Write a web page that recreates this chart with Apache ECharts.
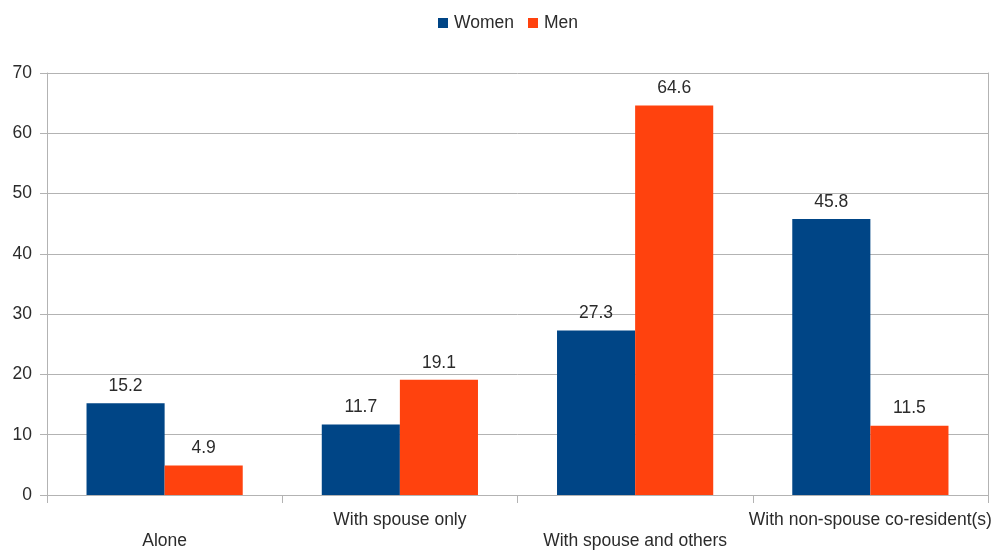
<!DOCTYPE html>
<html>
<head>
<meta charset="utf-8">
<script src="https://cdn.jsdelivr.net/npm/echarts@6/dist/echarts.min.js"></script>
<style>
  html, body { margin: 0; padding: 0; background: #ffffff; }
  #chart { width: 997px; height: 552px; }
</style>
</head>
<body>
<div id="chart"></div>
<script>
// Living arrangements by sex (%)
const categories = ['Alone', 'With spouse only', 'With spouse and others', 'With non-spouse co-resident(s)'];
const women = [15.2, 11.7, 27.3, 45.8];
const men = [4.9, 19.1, 64.6, 11.5];
const yTicks = { min: 0, max: 70, interval: 10 };

const FONT = '"Liberation Sans", Arial, sans-serif';
const FS = 17.5;
const TEXT = '#2b2b2b';
const GRID = '#b3b3b3';

const chart = echarts.init(document.getElementById('chart'), null, { renderer: 'canvas' });

const valueLabel = {
  show: true,
  position: 'top',
  distance: 8,
  color: TEXT,
  fontFamily: FONT,
  fontSize: FS
};

chart.setOption({
  animation: false,
  backgroundColor: '#ffffff',
  textStyle: { fontFamily: FONT },
  legend: {
    top: 9,
    left: 433,
    itemWidth: 10,
    itemHeight: 10,
    itemGap: 14,
    icon: 'rect',
    textStyle: { color: TEXT, fontFamily: FONT, fontSize: FS, padding: [0, 0, 0, 1] },
    data: ['Women', 'Men']
  },
  grid: { left: 47, right: 9, top: 73, bottom: 57 },
  xAxis: {
    type: 'category',
    data: categories,
    boundaryGap: true,
    axisLine: { show: true, lineStyle: { color: GRID, width: 1 } },
    axisTick: { show: true, length: 8, lineStyle: { color: GRID } },
    axisLabel: {
      interval: 0,
      margin: 15,
      color: TEXT,
      fontFamily: FONT,
      fontSize: FS,
      lineHeight: 21,
      // alternate labels between two rows so long names do not collide
      formatter: (value, index) => (index % 2 === 0 ? '\n' + value : value)
    },
    splitLine: { show: false }
  },
  yAxis: [
    {
      type: 'value',
      min: yTicks.min,
      max: yTicks.max,
      interval: yTicks.interval,
      axisLine: { show: true, lineStyle: { color: GRID, width: 1 } },
      axisTick: { show: true, length: 7, lineStyle: { color: GRID } },
      axisLabel: { margin: 15, color: TEXT, fontFamily: FONT, fontSize: FS },
      splitLine: { show: true, lineStyle: { color: GRID, width: 1 } }
    },
    {
      // right-hand frame line of the plot area
      type: 'value',
      position: 'right',
      min: yTicks.min,
      max: yTicks.max,
      interval: yTicks.interval,
      axisLine: { show: true, lineStyle: { color: GRID, width: 1 } },
      axisTick: { show: false },
      axisLabel: { show: false },
      splitLine: { show: false }
    }
  ],
  series: [
    {
      name: 'Women',
      type: 'bar',
      data: women,
      barGap: '0%',
      barCategoryGap: '33.6%',
      itemStyle: { color: '#004586' },
      label: valueLabel
    },
    {
      name: 'Men',
      type: 'bar',
      data: men,
      barGap: '0%',
      barCategoryGap: '33.6%',
      itemStyle: { color: '#ff420e' },
      label: valueLabel
    }
  ]
});
</script>
</body>
</html>
